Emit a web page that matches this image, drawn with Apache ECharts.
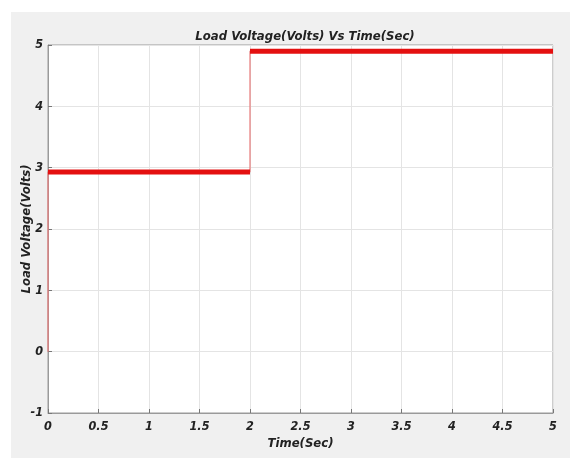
<!DOCTYPE html>
<html><head><meta charset="utf-8">
<script src="https://cdn.jsdelivr.net/npm/echarts@6/dist/echarts.min.js"></script>
<style>html,body{margin:0;padding:0;background:#fff}#c{width:570px;height:458px}</style>
</head><body><div id="c"></div>
<script>
const stepTimes = [0, 0, 2, 2, 5];
const stepValues = [0, 2.93, 2.93, 4.9, 4.9];
const level1 = {t: [0, 2], v: [2.93, 2.93]};
const level2 = {t: [2, 5], v: [4.9, 4.9]};
const xTicks = [0, 0.5, 1, 1.5, 2, 2.5, 3, 3.5, 4, 4.5, 5];
const yTicks = [-1, 0, 1, 2, 3, 4, 5];

const FONT = '"Liberation Sans Narrow","Arial Narrow","DejaVu Sans Condensed","Liberation Sans",sans-serif';
const pairs = (t, v) => t.map((x, i) => [x, v[i]]);
const chart = echarts.init(document.getElementById('c'));
chart.setOption({
  backgroundColor: '#ffffff',
  animation: false,
  graphic: [{type: 'rect', z: -10, silent: true, shape: {x: 11, y: 12, width: 559, height: 446}, style: {fill: '#f0f0f0'}}],
  title: {text: 'Load Voltage(Volts) Vs Time(Sec)', left: 300, top: 25, textAlign: 'center',
    textStyle: {fontFamily: FONT, fontStyle: 'italic', fontWeight: 'bold', fontSize: 13, color: '#222'}},
  grid: {left: 48, top: 45, right: 17, bottom: 45, show: true, backgroundColor: '#fff', borderColor: '#9a9a9a', borderWidth: 1},
  xAxis: {type: 'value', min: 0, max: 5, interval: 0.5,
    name: 'Time(Sec)', nameLocation: 'middle', nameGap: 24, nameMoveOverlap: false,
    nameTextStyle: {fontFamily: FONT, fontStyle: 'italic', fontWeight: 'bold', fontSize: 13, color: '#222'},
    axisLine: {show: true, onZero: false, lineStyle: {color: '#9a9a9a'}},
    axisTick: {show: true, inside: true, length: 4, lineStyle: {color: '#777'}},
    axisLabel: {fontFamily: FONT, fontStyle: 'italic', fontWeight: 'bold', fontSize: 12.5, color: '#222', margin: 7,
      formatter: v => xTicks.includes(v) ? String(v) : ''},
    splitLine: {show: true, lineStyle: {color: '#e4e4e4'}}},
  yAxis: {type: 'value', min: -1, max: 5, interval: 1,
    name: 'Load Voltage(Volts)', nameLocation: 'middle', nameGap: 15, nameMoveOverlap: false,
    nameTextStyle: {fontFamily: FONT, fontStyle: 'italic', fontWeight: 'bold', fontSize: 13, color: '#222'},
    axisLine: {show: true, onZero: false, lineStyle: {color: '#9a9a9a'}},
    axisTick: {show: true, inside: true, length: 4, lineStyle: {color: '#777'}},
    axisLabel: {fontFamily: FONT, fontStyle: 'italic', fontWeight: 'bold', fontSize: 12.5, color: '#222', margin: 5,
      formatter: v => yTicks.includes(v) ? String(v) : ''},
    splitLine: {show: true, lineStyle: {color: '#e4e4e4'}}},
  series: [
    {type: 'line', data: pairs(stepTimes, stepValues), showSymbol: false, lineStyle: {color: '#e87a7a', width: 1.2}},
    {type: 'line', data: pairs(level1.t, level1.v), showSymbol: false, lineStyle: {color: '#e41010', width: 5}},
    {type: 'line', data: pairs(level2.t, level2.v), showSymbol: false, lineStyle: {color: '#e41010', width: 5}}
  ]
});
</script></body></html>
